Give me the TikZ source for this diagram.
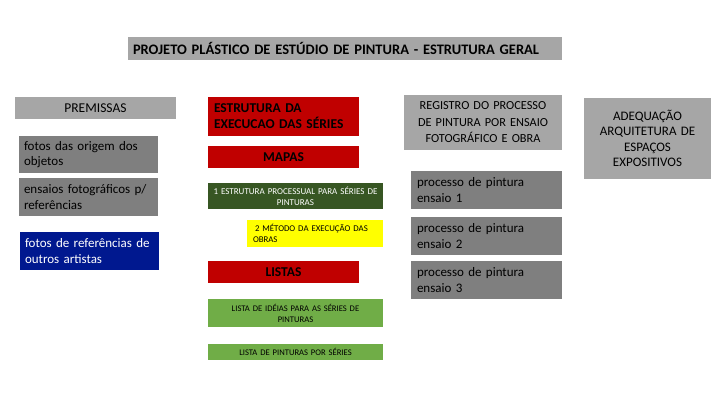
\documentclass[tikz,border=0pt]{standalone}
\usepackage{fontspec}
\setmainfont{Carlito}
\definecolor{lgray}{HTML}{A6A6A6}
\definecolor{dgray}{HTML}{7F7F7F}
\definecolor{navyb}{HTML}{00188F}
\definecolor{dred}{HTML}{C00000}
\definecolor{dgreen}{HTML}{375623}
\definecolor{lgreen}{HTML}{70AD47}
\definecolor{yel}{HTML}{FFFF00}
\tikzset{
  base/.style={rectangle, anchor=north west, inner ysep=0pt, outer sep=0pt, draw=none},
  bw/.style 2 args={minimum height=#2, /utils/exec={\pgfmathsetlengthmacro\mytw{#1-10pt}}, text width=\mytw, inner xsep=5pt},
  tl/.style={base, fill=lgray, font=\fontsize{14.5}{16}\selectfont\bfseries, align=left},
  hd/.style={base, fill=lgray, font=\fontsize{13.5}{15}\selectfont, align=center},
  gb/.style={base, fill=dgray, font=\fontsize{13}{15.5}\selectfont, align=left},
  bb/.style={base, fill=navyb, text=white, font=\fontsize{13}{15.5}\selectfont, align=left},
  rb/.style={base, fill=dred, font=\fontsize{13.5}{16}\selectfont\bfseries},
  db/.style={base, fill=dgreen, text=white, font=\fontsize{9}{11}\selectfont, align=center},
  yb/.style={base, fill=yel, font=\fontsize{8.8}{11}\selectfont, align=left},
  lb/.style={base, fill=lgreen, font=\fontsize{8.6}{11}\selectfont, align=center},
  cb/.style={base, fill=lgray, font=\fontsize{12.3}{16.5}\selectfont, align=center},
}
\begin{document}
\begin{tikzpicture}[x=1pt, y=-1pt]
\useasboundingbox[fill=white] (0,0) rectangle (720,405);
\node[tl, bw={434pt}{23pt}] (title) at (128,37) {PROJETO PLÁSTICO DE ESTÚDIO DE PINTURA - ESTRUTURA GERAL};
% left column
\node[hd, bw={161pt}{22pt}] (prem) at (15,97) {PREMISSAS};
\node[gb, bw={139pt}{37pt}] (f1) at (19,136) {fotos das origem dos\\objetos};
\node[gb, bw={139pt}{38pt}] (f2) at (19,178) {ensaios fotográficos p/\\referências};
\node[bb, bw={139pt}{38pt}] (f3) at (20,232) {fotos de referências de\\outros artistas};
% middle column
\node[rb, bw={151pt}{39pt}, align=left, inner xsep=6pt, text width=139pt] (est) at (208,97) {ESTRUTURA DA\\EXECUCAO DAS SÉRIES};
\node[rb, bw={151pt}{22pt}, align=center] (mapas) at (208,146) {MAPAS};
\node[db, bw={175pt}{26pt}, inner xsep=0pt, text width=175pt] (m1) at (208,183) {1 ESTRUTURA PROCESSUAL PARA SÉRIES DE\\PINTURAS};
\node[yb, bw={136pt}{27pt}, inner xsep=6pt, text width=124pt] (m2) at (247,220) {\hspace*{2pt}2 MÉTODO DA EXECUÇÃO DAS\\OBRAS};
\node[rb, bw={151pt}{22pt}, align=center] (listas) at (208,261) {LISTAS};
\node[lb, bw={175pt}{28pt}] (l1) at (208,299) {LISTA DE IDÉIAS PARA AS SÉRIES DE\\PINTURAS};
\node[lb, bw={175pt}{16pt}] (l2) at (208,344) {LISTA DE PINTURAS POR SÉRIES};
% right columns
\node[cb, bw={158pt}{55pt}] (reg) at (404,95) {REGISTRO DO PROCESSO\\DE PINTURA POR ENSAIO\\FOTOGRÁFICO E OBRA};
\node[gb, bw={151pt}{38pt}, inner xsep=6pt, text width=139pt] (p1) at (411,171) {processo de pintura\\ensaio 1};
\node[gb, bw={151pt}{38pt}, inner xsep=6pt, text width=139pt] (p2) at (411,217) {processo de pintura\\ensaio 2};
\node[gb, bw={151pt}{38pt}, inner xsep=6pt, text width=139pt] (p3) at (411,261) {processo de pintura\\ensaio 3};
\node[cb, bw={127pt}{81pt}, font=\fontsize{13}{15.5}\selectfont] (adq) at (584,98) {ADEQUAÇÃO\\ARQUITETURA DE\\ESPAÇOS\\EXPOSITIVOS};
\end{tikzpicture}
\end{document}
